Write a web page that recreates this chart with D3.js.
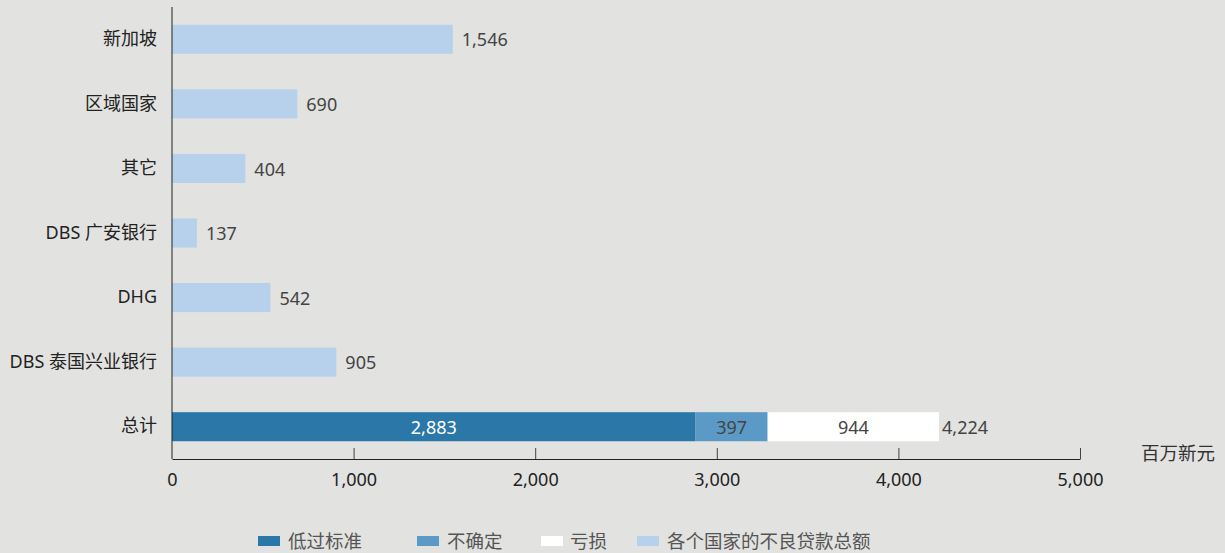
<!DOCTYPE html>
<html>
<head>
<meta charset="utf-8">
<script src="https://cdn.jsdelivr.net/npm/d3@7"></script>
<style>
  body { margin: 0; background: #e2e2e0; }
  text { font-family: "Noto Sans", "Noto Sans CJK SC", sans-serif; }
</style>
</head>
<body>
<div id="chart"></div>
<script>
// categories top to bottom
const categories = ['新加坡', '区域国家', '其它', 'DBS 广安银行', 'DHG', 'DBS 泰国兴业银行', '总计'];
// total NPL per country (light bars)
const countryValues = [1546, 690, 404, 137, 542, 905];
// breakdown of the total row
const segNames = ['低过标准', '不确定', '亏损'];
const segValues = [2883, 397, 944];
const legendNames = ['低过标准', '不确定', '亏损', '各个国家的不良贷款总额'];
const xTicks = [0, 1000, 2000, 3000, 4000, 5000];

const colors = ['#2a77a8', '#5b9ac6', '#ffffff', '#b7d0eb'];

const width = 1225, height = 553;
const margin = { top: 7, left: 172, right: 145, bottom: 94 };

const svg = d3.select('#chart')
  .append('svg')
    .attr('width', width)
    .attr('height', height);

svg.append('rect').attr('width', width).attr('height', height).attr('fill', '#e2e2e0');

const x = d3.scaleLinear()
  .domain([0, 5000])
  .range([margin.left, width - margin.right]);

const y = d3.scaleBand()
  .domain(categories)
  .range([margin.top, height - margin.bottom])
  .paddingInner(0.55)
  .paddingOuter(0.275);

const fmt = d3.format(',');

// country bars
svg.append('g')
  .selectAll('rect')
  .data(countryValues)
  .join('rect')
    .attr('x', x(0))
    .attr('y', (d, i) => y(categories[i]))
    .attr('width', d => x(d) - x(0))
    .attr('height', y.bandwidth())
    .attr('fill', colors[3]);

svg.append('g')
  .selectAll('text')
  .data(countryValues)
  .join('text')
    .attr('x', d => x(d) + 9)
    .attr('y', (d, i) => y(categories[i]) + y.bandwidth() / 2)
    .attr('dy', '0.4em')
    .attr('font-size', 18)
    .attr('fill', '#444')
    .text(d => fmt(d));

// stacked total bar
let acc = 0;
const stack = segValues.map((v, i) => {
  const s = { name: segNames[i], v: v, x0: acc, x1: acc + v, i: i };
  acc += v;
  return s;
});
const totalY = y(categories[categories.length - 1]);

svg.append('g')
  .selectAll('rect')
  .data(stack)
  .join('rect')
    .attr('x', d => x(d.x0))
    .attr('y', totalY)
    .attr('width', d => x(d.x1) - x(d.x0))
    .attr('height', y.bandwidth())
    .attr('fill', d => colors[d.i]);

svg.append('g')
  .selectAll('text')
  .data(stack)
  .join('text')
    .attr('x', d => (x(d.x0) + x(d.x1)) / 2)
    .attr('y', totalY + y.bandwidth() / 2)
    .attr('dy', '0.4em')
    .attr('text-anchor', 'middle')
    .attr('font-size', 18)
    .attr('fill', d => d.i === 0 ? '#fff' : '#444')
    .text(d => fmt(d.v));

svg.append('text')
  .attr('x', x(acc) + 3)
  .attr('y', totalY + y.bandwidth() / 2)
  .attr('dy', '0.4em')
  .attr('font-size', 18)
  .attr('fill', '#444')
  .text(fmt(acc));

// y axis
const yAxis = svg.append('g')
  .attr('transform', `translate(${margin.left},0)`)
  .call(d3.axisLeft(y).tickSize(0).tickPadding(15));
yAxis.select('.domain').attr('stroke', '#222').attr('d', `M0,${margin.top}V${height - margin.bottom}`);
yAxis.selectAll('text').attr('font-size', 18).attr('fill', '#222')
  .style('font-family', '"Noto Sans", "Noto Sans CJK SC", sans-serif');

// x axis with inward ticks
const xAxis = svg.append('g')
  .attr('transform', `translate(0,${height - margin.bottom})`)
  .call(d3.axisBottom(x).tickValues(xTicks).tickFormat(fmt).tickSize(0).tickPadding(14));
xAxis.select('.domain').attr('stroke', '#222');
xAxis.selectAll('.tick line').remove();
xAxis.selectAll('.tick')
  .filter(d => d > 0)
  .append('line')
    .attr('y2', -11)
    .attr('stroke', '#444');
xAxis.selectAll('text').attr('font-size', 18).attr('fill', '#222')
  .style('font-family', '"Noto Sans", "Noto Sans CJK SC", sans-serif');

svg.append('text')
  .attr('x', 1141)
  .attr('y', 460)
  .attr('font-size', 18.5)
  .attr('fill', '#333')
  .text('百万新元');

// legend
const legendX = [258, 417, 541, 637];
const legend = svg.append('g')
  .selectAll('g')
  .data(legendNames)
  .join('g')
    .attr('transform', (d, i) => `translate(${legendX[i]},541)`);
legend.append('rect')
  .attr('y', -5)
  .attr('width', 22)
  .attr('height', 10)
  .attr('fill', (d, i) => colors[i]);
legend.append('text')
  .attr('x', (d, i) => i === 2 ? 29 : 30)
  .attr('dy', '0.36em')
  .attr('font-size', 18.5)
  .attr('fill', '#555')
  .text(d => d);
</script>
</body>
</html>
